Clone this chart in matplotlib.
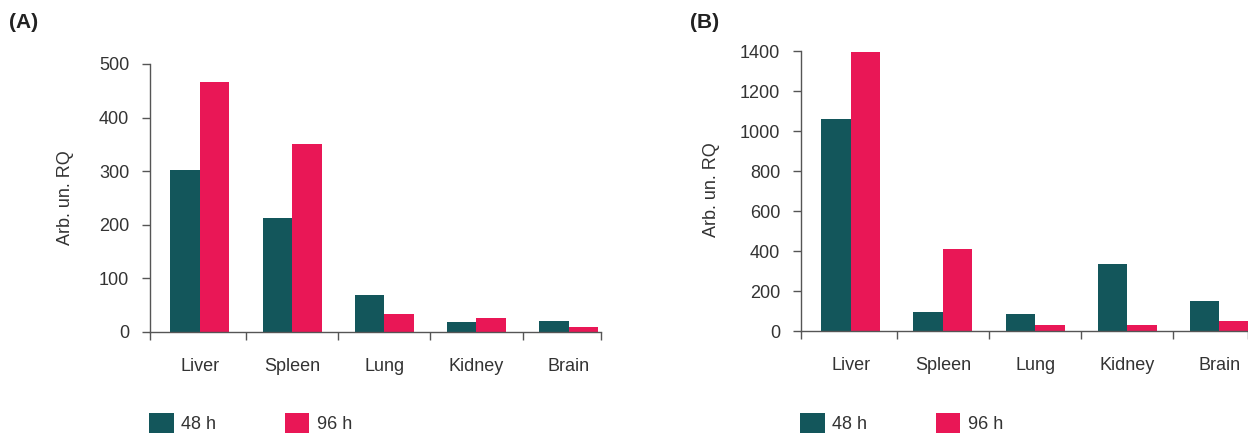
import matplotlib
matplotlib.use("Agg")
import matplotlib.pyplot as plt
from matplotlib.patches import Patch
import numpy as np

plt.rcParams['font.family'] = ['Liberation Sans', 'DejaVu Sans']

categories = ["Liver", "Spleen", "Lung", "Kidney", "Brain"]
series_names = ["48 h", "96 h"]
a_48h = [302, 213, 69, 19, 20]
a_96h = [466, 351, 34, 26, 9]
b_48h = [1060, 95, 85, 335, 150]
b_96h = [1395, 410, 30, 30, 50]
a_yticks = [0, 100, 200, 300, 400, 500]
b_yticks = [0, 200, 400, 600, 800, 1000, 1200, 1400]

C48 = "#13565B"
C96 = "#E91756"
TXT = "#333333"
SP = "#555555"
W, H = 1248, 434
FS = 13

fig = plt.figure(figsize=(W / 100, H / 100), dpi=100)


def px_axes(l, r, top, bottom):
    return fig.add_axes([l / W, 1 - bottom / H, (r - l) / W, (bottom - top) / H])


def panel(ax, v48, v96, yticks, xright):
    x = np.arange(len(categories))
    bw = 0.32
    ax.bar(x - bw / 2, v48, width=bw, color=C48, linewidth=0)
    ax.bar(x + bw / 2, v96, width=bw, color=C96, linewidth=0)
    ax.set_xlim(-0.54, xright)
    ax.set_ylim(yticks[0], yticks[-1])
    ax.spines['top'].set_visible(False)
    ax.spines['right'].set_visible(False)
    for s in ('left', 'bottom'):
        ax.spines[s].set_color(SP)
        ax.spines[s].set_linewidth(1.0)
    ax.set_yticks(yticks)
    ax.set_yticklabels([str(t) for t in yticks])
    ax.tick_params(axis='y', length=6, width=1.0, color=SP, pad=9,
                   labelsize=FS, labelcolor=TXT)
    bounds = [-0.54] + [i + 0.5 for i in range(len(categories) - 1)] + [xright]
    ax.set_xticks(bounds)
    ax.set_xticklabels([''] * len(bounds))
    ax.tick_params(axis='x', which='major', length=6, width=1.0, color=SP)
    ax.set_xticks(x, minor=True)
    ax.set_xticklabels(categories, minor=True)
    ax.tick_params(axis='x', which='minor', length=0, pad=18.5,
                   labelsize=FS, labelcolor=TXT)
    ax.set_facecolor('none')


axA = px_axes(150, 601, 64, 332)
panel(axA, a_48h, a_96h, a_yticks, 4.35)
axB = px_axes(801, 1248, 51, 331)
panel(axB, b_48h, b_96h, b_yticks, 4.31)

fig.text(65 / W, 1 - 198 / H, "Arb. un. RQ", rotation=90, ha='center',
         va='center', fontsize=FS, color=TXT)
fig.text(712 / W, 1 - 190 / H, "Arb. un. RQ", rotation=90, ha='center',
         va='center', fontsize=FS, color=TXT)
fig.text(9 / W, 1 - 22 / H, "(A)", ha='left', va='center', fontsize=15,
         fontweight='bold', color="#222222")
fig.text(690 / W, 1 - 22 / H, "(B)", ha='left', va='center', fontsize=15,
         fontweight='bold', color="#222222")

handles = [Patch(facecolor=C48, edgecolor='none', label=series_names[0]),
           Patch(facecolor=C96, edgecolor='none', label=series_names[1])]
for lx in (149, 800):
    fig.legend(handles=handles, loc='center left',
               bbox_to_anchor=(lx / W, 1 - 423 / H), ncol=2, frameon=False,
               borderpad=0, borderaxespad=0, handlelength=1.38,
               handleheight=1.33, handletextpad=0.39, columnspacing=3.8,
               fontsize=FS, labelcolor=TXT)

fig.savefig("out.png", dpi=100)
